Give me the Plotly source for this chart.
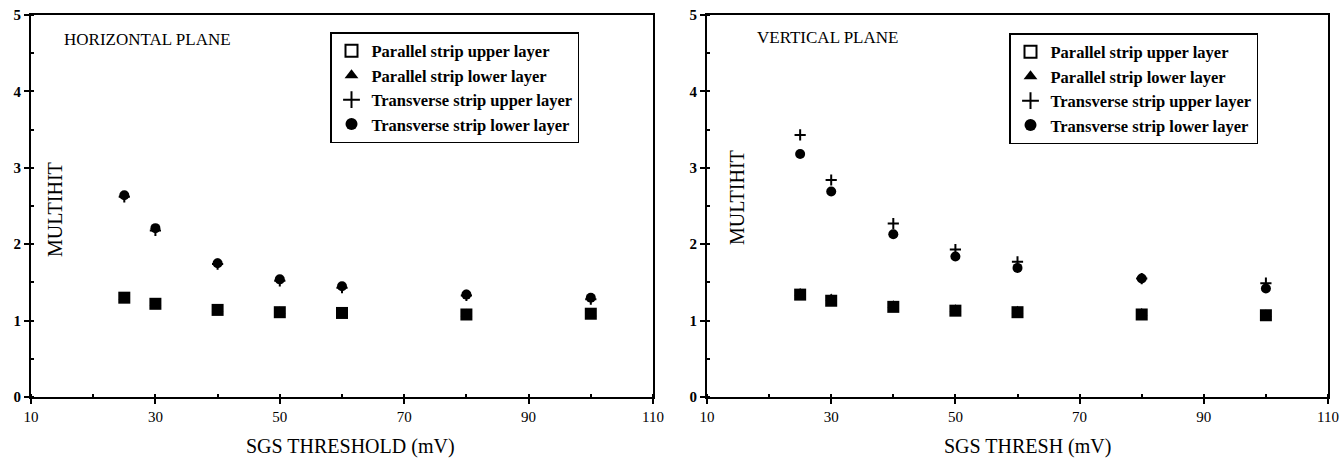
import plotly.graph_objects as go

thresholds = [25, 30, 40, 50, 60, 80, 100]

# Horizontal plane
h_par_upper = [1.30, 1.22, 1.14, 1.11, 1.10, 1.08, 1.09]
h_par_lower = [1.31, 1.23, 1.15, 1.12, 1.11, 1.09, 1.09]
h_tr_upper = [2.62, 2.18, 1.74, 1.52, 1.43, 1.33, 1.28]
h_tr_lower = [2.64, 2.21, 1.75, 1.54, 1.45, 1.34, 1.30]

# Vertical plane
v_par_upper = [1.34, 1.26, 1.18, 1.13, 1.11, 1.08, 1.07]
v_par_lower = [1.36, 1.29, 1.20, 1.15, 1.13, 1.10, 1.08]
v_tr_upper = [3.43, 2.84, 2.27, 1.93, 1.77, 1.55, 1.49]
v_tr_lower = [3.18, 2.69, 2.13, 1.84, 1.69, 1.55, 1.42]

names = ["Parallel strip upper layer", "Parallel strip lower layer",
         "Transverse strip upper layer", "Transverse strip lower layer"]
x_ticks = [10, 30, 50, 70, 90, 110]
y_ticks = [0, 1, 2, 3, 4, 5]

W, H = 1342, 462
SERIF = "Liberation Serif"

def px(v):
    return v / W

def py(v):
    return 1 - v / H

fig = go.Figure()

data_styles = [
    dict(symbol="square", size=12, color="black", line=dict(width=0)),
    dict(symbol="triangle-up", size=10, color="black", line=dict(width=0)),
    dict(symbol="cross-thin", size=8, color="black", line=dict(width=2, color="black")),
    dict(symbol="circle", size=10, color="black", line=dict(width=0)),
]
legend_styles = [
    dict(symbol="square-open", size=9, color="black", line=dict(width=2, color="black")),
    dict(symbol="triangle-up", size=10, color="black", line=dict(width=0)),
    dict(symbol="cross-thin", size=8, color="black", line=dict(width=2, color="black")),
    dict(symbol="circle", size=9, color="black", line=dict(width=0)),
]

for series, xa, ya, lg in [
    ((h_par_upper, h_par_lower, h_tr_upper, h_tr_lower), "x", "y", "legend"),
    ((v_par_upper, v_par_lower, v_tr_upper, v_tr_lower), "x2", "y2", "legend2"),
]:
    for name, vals, st in zip(names, series, data_styles):
        fig.add_trace(go.Scatter(
            x=thresholds, y=vals, mode="markers", name=name,
            marker=st, xaxis=xa, yaxis=ya, showlegend=False,
        ))
    for name, st in zip(names, legend_styles):
        fig.add_trace(go.Scatter(
            x=[None], y=[None], mode="markers", name=name,
            marker=st, xaxis=xa, yaxis=ya, legend=lg, showlegend=True,
        ))

axis_common = dict(
    showgrid=False, zeroline=False, showline=True, mirror=True,
    linecolor="black", linewidth=2, ticks="outside", ticklen=5,
    tickcolor="black", tickwidth=1.5, automargin=False,
)
ydom = [py(397), py(15)]
legend_common = dict(
    xanchor="left", yanchor="top",
    bordercolor="black", borderwidth=1.5, bgcolor="white",
    font=dict(size=16.5, family=SERIF, weight="bold"),
    tracegroupgap=0, itemsizing="constant",
)
fig.update_layout(
    width=W, height=H,
    margin=dict(l=0, r=0, t=0, b=0, autoexpand=False),
    paper_bgcolor="white", plot_bgcolor="white",
    font=dict(family=SERIF, color="black"),
    xaxis=dict(domain=[px(31), px(653)], range=[10, 110], tickvals=x_ticks,
               tickfont=dict(size=15, family=SERIF),
               minor=dict(dtick=10, ticks="inside", ticklen=3, tickcolor="black"),
               anchor="y", **axis_common),
    yaxis=dict(domain=ydom, range=[0, 5], tickvals=y_ticks,
               tickfont=dict(size=15, family=SERIF, weight="bold"),
               minor=dict(dtick=0.5, ticks="inside", ticklen=3, tickcolor="black"),
               anchor="x", **axis_common),
    xaxis2=dict(domain=[px(707), px(1328)], range=[10, 110], tickvals=x_ticks,
                tickfont=dict(size=15, family=SERIF),
                minor=dict(dtick=10, ticks="inside", ticklen=3, tickcolor="black"),
                anchor="y2", **axis_common),
    yaxis2=dict(domain=ydom, range=[0, 5], tickvals=y_ticks,
                tickfont=dict(size=15, family=SERIF, weight="bold"),
                minor=dict(dtick=0.5, ticks="inside", ticklen=3, tickcolor="black"),
                anchor="x2", **axis_common),
    legend=dict(x=px(330), y=py(32), **legend_common),
    legend2=dict(x=px(1009), y=py(33), **legend_common),
)

annots = [
    dict(text="HORIZONTAL PLANE", x=px(62), y=py(40), xanchor="left", yanchor="middle", size=17, angle=0),
    dict(text="VERTICAL PLANE", x=px(755), y=py(37), xanchor="left", yanchor="middle", size=17, angle=0),
    dict(text="MULTIHIT", x=px(55), y=py(209), xanchor="center", yanchor="middle", size=20, angle=-90),
    dict(text="MULTIHIT", x=px(737), y=py(198), xanchor="center", yanchor="middle", size=20, angle=-90),
    dict(text="SGS THRESHOLD (mV)", x=px(350), y=py(446), xanchor="center", yanchor="middle", size=20, angle=0),
    dict(text="SGS THRESH (mV)", x=px(1027), y=py(446), xanchor="center", yanchor="middle", size=20, angle=0),
]
for a in annots:
    fig.add_annotation(text=a["text"], x=a["x"], y=a["y"], xref="paper", yref="paper",
                       xanchor=a["xanchor"], yanchor=a["yanchor"], textangle=a["angle"],
                       showarrow=False, font=dict(size=a["size"], family=SERIF, color="black"))

fig.write_html(
    "out.html",
    config={"displayModeBar": False},
    post_script="document.body.style.margin='0';document.body.style.overflow='hidden';",
)
